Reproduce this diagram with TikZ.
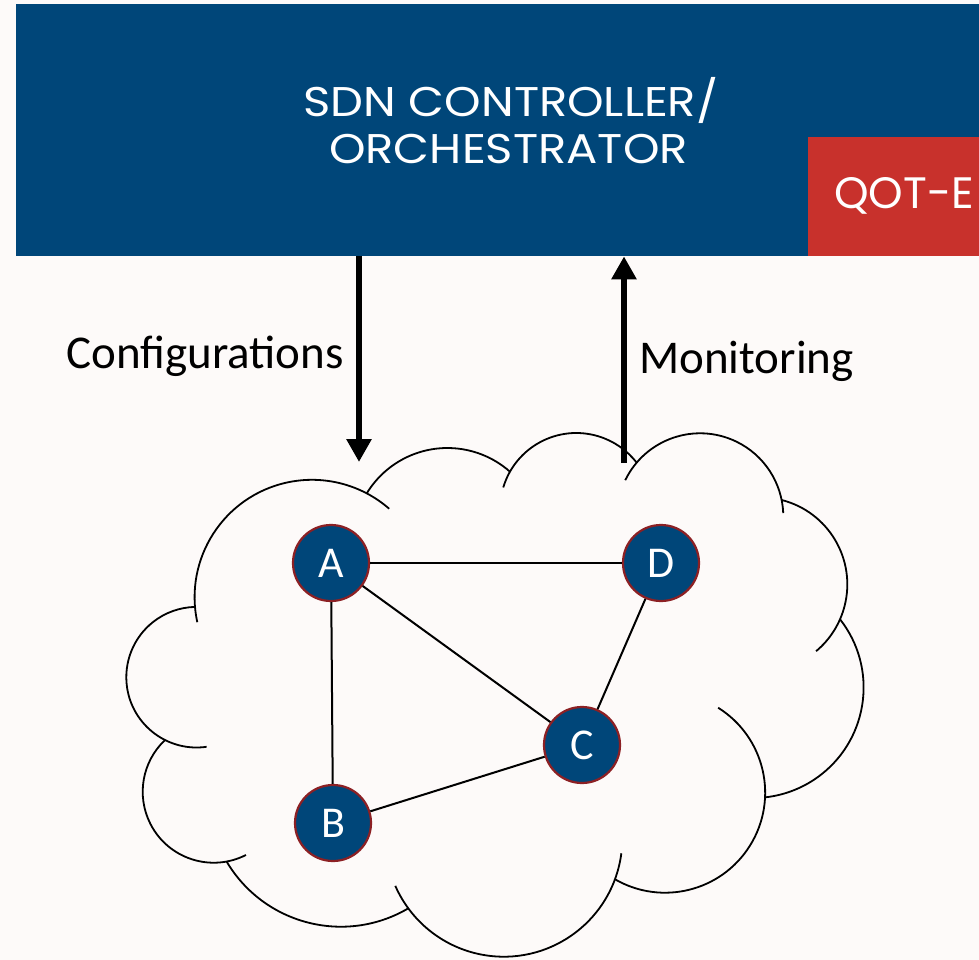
\documentclass[tikz,border=0pt]{standalone}
\usepackage{fontspec}
\setmainfont{Carlito}
\newfontfamily\titlefont{Poppins}
\newfontfamily\widetitlefont[FakeStretch=1.12]{Poppins}
\usetikzlibrary{arrows.meta}
\definecolor{navy}{RGB}{0,70,121}
\definecolor{qotred}{RGB}{200,49,44}
\definecolor{rim}{RGB}{140,32,36}
\definecolor{paper}{RGB}{253,250,249}

\begin{document}
\begin{tikzpicture}[x=1pt,y=-1pt,
  netnode/.style={circle, fill=navy, draw=rim, line width=2.2pt,
    minimum size=76pt, inner sep=0pt, text=white,
    font=\fontsize{44}{44}\selectfont},
  link/.style={line width=2pt},
  cloudline/.style={line width=1.8pt},
  flow/.style={line width=6pt, -{Triangle[width=24pt,length=23pt]}},
  sidelabel/.style={font=\fontsize{47}{47}\selectfont, inner sep=0pt},
  titletext/.style={font=\widetitlefont\fontsize{41.5}{47}\selectfont, text=white, inner sep=0pt},
]
% page and background
\fill[paper] (0,0) rectangle (979,960);
\useasboundingbox (0,0) rectangle (979,960);

% controller block with the QoT estimator corner
\node[fill=navy, anchor=north west, minimum width=963pt, minimum height=252pt,
      inner sep=0pt] (ctrl) at (16,4) {};
\node[fill=qotred, anchor=north west, minimum width=171pt, minimum height=119pt,
      inner sep=0pt] (qot) at (808,137) {};
\node[titletext, anchor=base] (title1) at (511,117) {SDN CONTROLLER/};
\node[titletext, anchor=base] (title2) at (508.5,164) {ORCHESTRATOR};
\node[titletext, anchor=base, font=\titlefont\fontsize{44}{44}\selectfont] (qottext) at (904,208) {QOT-E};

% cloud outline: one circular arc per lobe, creases where arcs run on
\foreach \cx/\cy/\r/\a/\b in {
  196.6/677.2/70.3/81.8/268.7,
  312/597.2/117.4/167.7/311.1,
  447.4/542.4/94.4/211.3/311.5,
  576.3/509.2/76.2/196.6/322.4,
  700.1/516.5/83.2/205.9/357.6,
  760.2/584.4/87.1/284.3/410.1,
  753.1/687.5/110.5/-38.1/83.8,
  665.05/792.6/100.1/-58/120,
  503.8/838.2/118.5/7.3/156.3,
  340.9/793.9/132.8/59.5/149.3,
  213.7/791.7/71.0/63/226.7}
  \draw[cloudline] (\cx,\cy) ++(\a:\r) arc[start angle=\a, end angle=\b, radius=\r];

% control and monitoring flows
\coordinate (cfgend) at (359,462);
\coordinate (monstart) at (624,463);
\draw[flow] (ctrl.south -| cfgend) -- (cfgend);
\draw[flow] (monstart) -- (monstart |- ctrl.south);
\node[sidelabel, anchor=base west] (cfg) at (66,368) {Configurations};
\node[sidelabel, anchor=base west] (mon) at (639,373) {Monitoring};

% network nodes
\node[netnode] (A) at (331,563) {A};
\node[netnode] (D) at (661,563) {D};
\node[netnode] (C) at (582,745) {C};
\node[netnode] (B) at (333,823) {B};

\draw[link] (A) -- (D);
\draw[link] (A) -- (B);
\draw[link] (A) -- (C);
\draw[link] (D) -- (C);
\draw[link] (B) -- (C);
\end{tikzpicture}
\end{document}
